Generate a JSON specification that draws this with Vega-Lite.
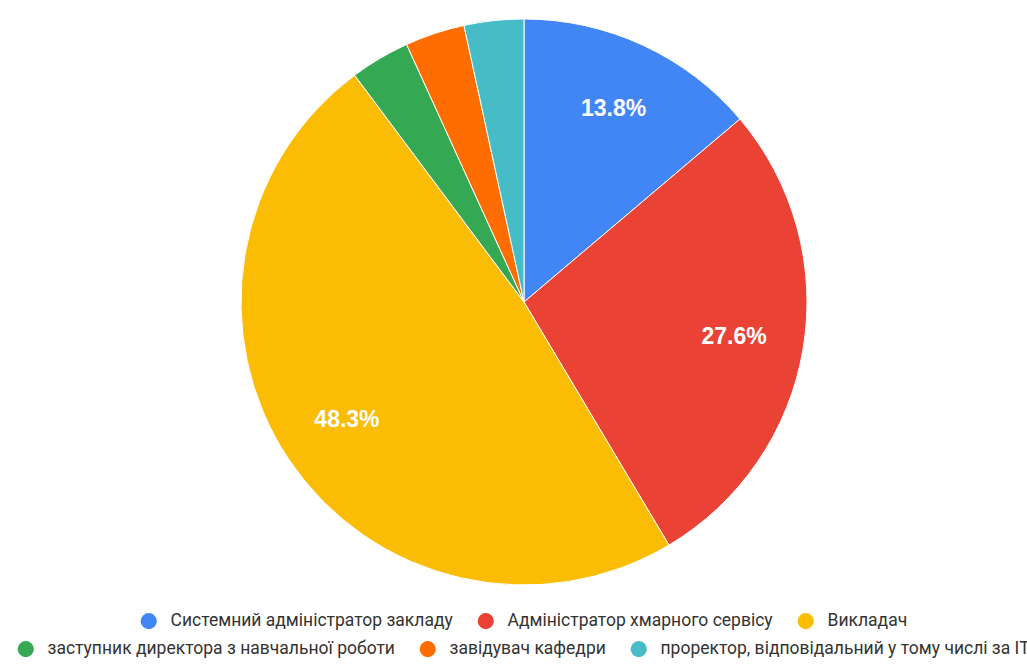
{
  "$schema": "https://vega.github.io/schema/vega-lite/v6.json",
  "width": 1006,
  "height": 604,
  "autosize": {"type": "none"},
  "padding": {"left": 21, "top": 0, "right": 0, "bottom": 62},
  "background": "white",
  "config": {
    "view": {"stroke": null},
    "legend": {
      "labelFont": "Roboto",
      "labelFontSize": 17.5,
      "labelColor": "#333333",
      "labelLimit": 800,
      "symbolType": "circle",
      "symbolSize": 260,
      "symbolStrokeWidth": 0,
      "labelOffset": 13,
      "columnPadding": 24,
      "padding": 0,
      "direction": "horizontal",
      "title": null
    }
  },
  "data": {
    "values": [
      {"idx": 1, "role": "Системний адміністратор закладу", "share": 0.138},
      {"idx": 2, "role": "Адміністратор хмарного сервісу", "share": 0.276},
      {"idx": 3, "role": "Викладач", "share": 0.483},
      {"idx": 4, "role": "заступник директора з навчальної роботи", "share": 0.034},
      {"idx": 5, "role": "завідувач кафедри", "share": 0.034},
      {"idx": 6, "role": "проректор, відповідальний у тому числі за ІТ", "share": 0.034}
    ]
  },
  "layer": [
    {
      "mark": {"type": "arc", "outerRadius": 283, "stroke": "white", "strokeWidth": 1},
      "encoding": {
        "theta": {"field": "share", "type": "quantitative", "stack": true},
        "order": {"field": "idx", "type": "quantitative"},
        "color": {
          "field": "role",
          "type": "nominal",
          "scale": {
            "domain": ["Системний адміністратор закладу", "Адміністратор хмарного сервісу", "Викладач", "заступник директора з навчальної роботи", "завідувач кафедри", "проректор, відповідальний у тому числі за ІТ"],
            "range": ["#4285F4", "#EA4335", "#FBBC04", "#34A853", "#FF6D01", "#46BDC6"]
          },
          "legend": {
            "values": ["Системний адміністратор закладу", "Адміністратор хмарного сервісу", "Викладач"],
            "orient": "none",
            "legendX": 119,
            "legendY": 612,
            "columns": 3
          }
        }
      }
    },
    {
      "mark": {"type": "arc", "outerRadius": 283, "stroke": "white", "strokeWidth": 1},
      "encoding": {
        "theta": {"field": "share", "type": "quantitative", "stack": true},
        "order": {"field": "idx", "type": "quantitative"},
        "fill": {
          "field": "role",
          "type": "nominal",
          "scale": {
            "domain": ["заступник директора з навчальної роботи", "завідувач кафедри", "проректор, відповідальний у тому числі за ІТ", "Системний адміністратор закладу", "Адміністратор хмарного сервісу", "Викладач"],
            "range": ["#34A853", "#FF6D01", "#46BDC6", "#4285F4", "#EA4335", "#FBBC04"]
          },
          "legend": {
            "values": ["заступник директора з навчальної роботи", "завідувач кафедри", "проректор, відповідальний у тому числі за ІТ"],
            "orient": "none",
            "legendX": -4,
            "legendY": 640,
            "columns": 3
          }
        }
      }
    },
    {
      "mark": {"type": "text", "radius": 213, "font": "Liberation Sans", "fontSize": 23, "fontWeight": "bold", "fill": "white", "align": "center", "baseline": "middle"},
      "encoding": {
        "theta": {"field": "share", "type": "quantitative", "stack": true},
        "order": {"field": "idx", "type": "quantitative"},
        "text": {"field": "share", "type": "quantitative", "format": ".1%"},
        "opacity": {"condition": {"test": "datum.share < 0.05", "value": 0}, "value": 1}
      }
    }
  ]
}
